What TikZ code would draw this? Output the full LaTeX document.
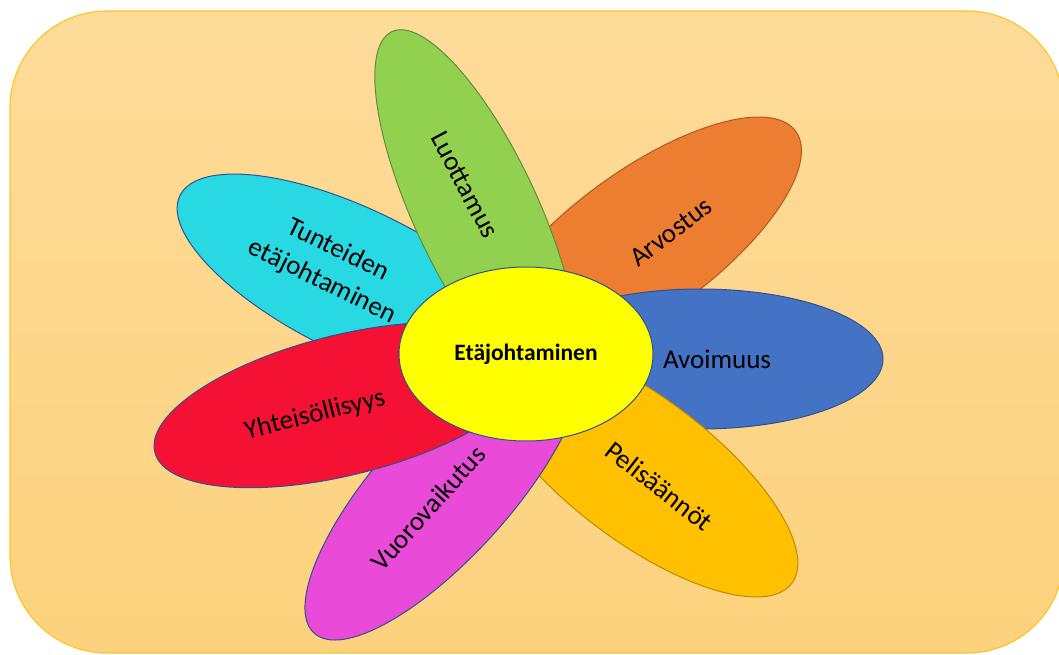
\documentclass[tikz,border=0pt]{standalone}
\usepackage{fontspec}
\setmainfont{Carlito}
\usetikzlibrary{shapes.geometric}
\usepackage{xcolor}
\definecolor{taustaylos}{RGB}{253,219,153}
\definecolor{taustaalas}{RGB}{253,210,126}
\definecolor{taustareuna}{RGB}{255,196,40}
\definecolor{vihrea}{RGB}{146,208,80}
\definecolor{vihreareuna}{RGB}{96,140,60}
\definecolor{oranssi}{RGB}{237,125,49}
\definecolor{oranssireuna}{RGB}{174,90,33}
\definecolor{sininen}{RGB}{68,114,196}
\definecolor{kulta}{RGB}{255,192,0}
\definecolor{kultareuna}{RGB}{188,140,0}
\definecolor{pinkki}{RGB}{234,74,216}
\definecolor{punainen}{RGB}{244,17,52}
\definecolor{turkoosi}{RGB}{40,216,226}
\definecolor{keltainen}{RGB}{255,255,0}
\definecolor{tummareuna}{RGB}{47,82,143}
\newcommand{\lehti}[6]{%
  \node[lehtimuoto, fill=#2, draw=#3, rotate=#4,
        minimum width=#5pt, minimum height=#6pt] (#1) }

\begin{document}
\begin{tikzpicture}[x=1pt, y=-1pt,
  lehtimuoto/.style={ellipse, inner sep=0pt, line width=1pt},
  lehtiteksti/.style={font=\fontsize{27}{35}\selectfont, align=center}]

\useasboundingbox (0,0) rectangle (1059,655);
\draw[taustareuna, line width=1.2pt, rounded corners=97pt,
      top color=taustaylos, bottom color=taustaalas] (10,11) rectangle (1064,653);

% terälehdet, alimmasta ylimpään
\lehti{arvostus}{oranssi}{oranssireuna}{36}{380}{144} at (642,243) {};
\lehti{avoimuus}{sininen}{tummareuna}{0}{366}{140} at (700,359) {};
\lehti{pelisaannot}{kulta}{kultareuna}{-37}{380}{144} at (640,469) {};
\lehti{vuorovaikutus}{pinkki}{tummareuna}{48}{388}{134} at (444,489) {};
\lehti{tunteiden}{turkoosi}{tummareuna}{-26}{394}{144} at (357,282) {};
\lehti{yhteisollisyys}{punainen}{tummareuna}{14}{390}{140} at (344,405) {};
\lehti{luottamus}{vihrea}{vihreareuna}{-65}{398}{124} at (476,212) {};

\node[lehtimuoto, fill=keltainen, draw=tummareuna, minimum width=254pt,
      minimum height=174pt, font=\fontsize{23.5}{28}\selectfont\bfseries]
      (keskus) at (526,354) {Etäjohtaminen};

\node[lehtiteksti, rotate=37] (arvostusteksti) at (671,232) {Arvostus};
\node[lehtiteksti] (avoimuusteksti) at (717,359) {Avoimuus};
\node[lehtiteksti, rotate=-38] (pelisaannotteksti) at (659,486) {Pelisäännöt};
\node[lehtiteksti, rotate=48] (vuorovaikutusteksti) at (428,508) {Vuorovaikutus};
\node[lehtiteksti, rotate=-26] (tunteidenteksti) at (330,266) {Tunteiden\\etäjohtaminen};
\node[lehtiteksti, rotate=14] (yhteisollisyysteksti) at (315,415) {Yhteisöllisyys};
\node[lehtiteksti, rotate=-62] (luottamusteksti) at (465,185) {Luottamus};

\end{tikzpicture}
\end{document}
